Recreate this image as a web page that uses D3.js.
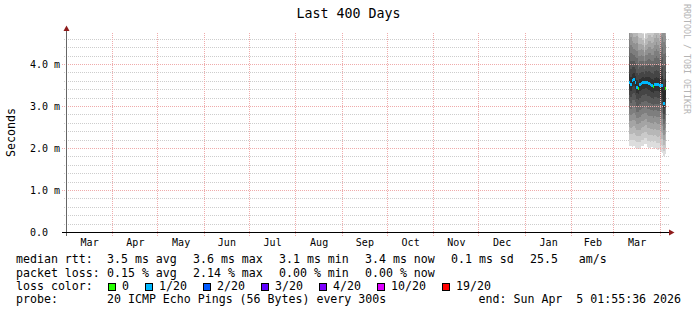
<!DOCTYPE html>
<html>
<head>
<meta charset="utf-8"/>
<title>Last 400 Days</title>
<script src="https://cdn.jsdelivr.net/npm/d3@7/dist/d3.min.js"></script>
<style>
  body { margin: 0; background: #fff; }
  svg text { font-family: 'DejaVu Sans Mono', monospace; fill: #000; white-space: pre; }
  .axisText { font-size: 10px; }
  .legend { font-size: 11.6px; }
</style>
</head>
<body>
<div id="chart"></div>
<script>
// time window of the graph
const start = new Date(Date.UTC(2025, 2, 1, 1, 55, 36));
const end = new Date(Date.UTC(2026, 3, 5, 1, 55, 36));

// one value per day (ms)
const days = ["2026-03-11","2026-03-12","2026-03-13","2026-03-14","2026-03-15","2026-03-16","2026-03-17",
  "2026-03-18","2026-03-19","2026-03-20","2026-03-21","2026-03-22","2026-03-23","2026-03-24","2026-03-25",
  "2026-03-26","2026-03-27","2026-03-28","2026-03-29","2026-03-30","2026-03-31","2026-04-01","2026-04-02",
  "2026-04-03","2026-04-04"];
const median = [3.58, 3.52, 3.62, 3.64, 3.58, 3.46, 3.44, 3.52, 3.55, 3.57, 3.57, 3.58, 3.56,
  3.55, 3.53, 3.50, 3.47, 3.52, 3.53, 3.52, 3.51, 3.50, 3.49, 3.08, 3.44];
const lossPct = [0.3, 0.1, 0.1, 0.1, 0.05, 0.05, 0, 0.1, 0.05, 0.1, 0.05, 0.05, 0.1,
  0.05, 0.1, 0.05, 0, 0.05, 0.05, 0.1, 0.05, 0.1, 0.05, 2.14, 0];
const smokeLow = [2.05, 2.06, 2.04, 2.05, 2.02, 2.00, 2.02, 1.99, 2.05, 2.06, 2.10, 2.11, 2.03,
  2.02, 2.01, 2.03, 2.00, 2.02, 1.98, 1.97, 1.98, 1.92, 1.90, 1.82, 1.86];
const smokeHigh = [5.6, 5.4, 5.2, 5.1, 5.1, 5.2, 4.95, 4.9, 4.9, 4.85, 4.62, 4.85, 4.9,
  5.0, 5.0, 4.95, 5.0, 5.1, 5.2, 5.1, 5.0, 5.5, 5.8, 6.0, 5.5];

const yTicks = [0, 1, 2, 3, 4];
const yTickLabels = ["0.0  ", "1.0 m", "2.0 m", "3.0 m", "4.0 m"];

const lossLabels = ["0", "1/20", "2/20", "3/20", "4/20", "10/20", "19/20"];
const lossColors = ["#26ff00", "#00b8ff", "#0059ff", "#5e00ff", "#7e00ff", "#dd00ff", "#ff0000"];
const lossLimits = [0, 1, 2, 3, 4, 10, 19]; // lost pings out of 20

const rttStats = ["3.5 ms avg", "3.6 ms max", "3.1 ms min", "3.4 ms now", "0.1 ms sd", "25.5   am/s"];
const lossStats = ["0.15 % avg", "2.14 % max", "0.00 % min", "0.00 % now"];
const probeText = "20 ICMP Echo Pings (56 Bytes) every 300s";
const endText = "end: Sun Apr  5 01:55:36 2026";

const W = 697, H = 315;
const svg = d3.select("#chart").append("svg")
  .attr("width", W).attr("height", H);

const x = d3.scaleUtc().domain([start, end]).range([66.5, 666.5]);
const y = d3.scaleLinear().domain([0, 200 / 42]).range([232.5, 32.5]);
const snap = v => Math.round(v - 0.5) + 0.5;

const parse = d3.utcParse("%Y-%m-%d");
const data = days.map((d, i) => ({
  t0: parse(d), t1: d3.utcDay.offset(parse(d), 1),
  med: median[i], loss: lossPct[i], lo: smokeLow[i], hi: smokeHigh[i]
}));

function lossColor(pct) {
  const pings = pct / 100 * 20;
  for (let i = 0; i < lossLimits.length; i++) if (pings <= lossLimits[i]) return lossColors[i];
  return lossColors[lossColors.length - 1];
}

// title
svg.append("text").attr("x", 348.5).attr("y", 18).attr("text-anchor", "middle")
  .style("font-size", "13.3px").text("Last 400 Days");

// watermark
svg.append("text").attr("transform", "translate(684,4) rotate(90)")
  .style("font-size", "8.3px").style("fill", "#b4b4b4").text("RRDTOOL / TOBI OETIKER");

// y axis title
svg.append("text").attr("transform", "translate(15,132.5) rotate(-90)")
  .attr("text-anchor", "middle").attr("class", "legend").text("Seconds");

// minor horizontal grid
const minor = y.ticks(24).filter(v => v > 0 && Math.abs(v - Math.round(v)) > 1e-6);
svg.append("g").selectAll("line").data(minor).enter().append("line")
  .attr("x1", 64).attr("x2", 669)
  .attr("y1", d => snap(y(d))).attr("y2", d => snap(y(d)))
  .attr("stroke", "#cdcdcd").attr("stroke-dasharray", "1,1");

// smoke
svg.append("clipPath").attr("id", "plot").append("rect")
  .attr("x", 66).attr("y", 33).attr("width", 601).attr("height", 200);

const half = 10;
const bands = [];
data.forEach(d => {
  for (let j = 0; j < half; j++) {
    const c = Math.floor(190 / half * (half - 1 - j)) + 50;
    bands.push({
      d, a: d.lo + (d.med - d.lo) * j / half, b: d.hi - (d.hi - d.med) * j / half,
      fill: d3.rgb(c, c, c).formatHex()
    });
  }
});
svg.append("g").attr("clip-path", "url(#plot)").attr("shape-rendering", "crispEdges")
  .selectAll("rect").data(bands).enter().append("rect")
  .attr("x", b => Math.round(x(b.d.t0)))
  .attr("width", b => Math.round(x(b.d.t1)) - Math.round(x(b.d.t0)))
  .attr("y", b => Math.round(y(b.b)))
  .attr("height", b => Math.round(y(b.a)) - Math.round(y(b.b)))
  .attr("fill", b => b.fill);

// median line with loss colours
const pts = data.map(d => [Math.round(x(d.t0)), y(d.med)]);
const last = data[data.length - 1];
pts.push([Math.round(x(last.t1)), y(last.med)]);
svg.append("path").attr("d", d3.line().curve(d3.curveStepAfter)(pts))
  .attr("fill", "none").attr("stroke", "#202020").attr("stroke-width", 1);
svg.append("g").attr("shape-rendering", "crispEdges")
  .selectAll("rect").data(data).enter().append("rect")
  .attr("x", d => Math.round(x(d.t0)))
  .attr("width", d => Math.round(x(d.t1)) - Math.round(x(d.t0)))
  .attr("y", d => Math.round(y(d.med) - 1.5)).attr("height", 3)
  .attr("fill", d => lossColor(d.loss));

// major horizontal grid
svg.append("g").selectAll("line").data(yTicks.filter(v => v > 0)).enter().append("line")
  .attr("x1", 62).attr("x2", 669)
  .attr("y1", d => y(d)).attr("y2", d => y(d))
  .attr("stroke", "#efabab").attr("stroke-dasharray", "1,1");

// month grid + labels
const months = d3.utcMonth.range(d3.utcMonth.ceil(start), end);
svg.append("g").selectAll("line").data(months).enter().append("line")
  .attr("x1", d => snap(x(d))).attr("x2", d => snap(x(d)))
  .attr("y1", 33).attr("y2", 236)
  .attr("stroke", "#efabab").attr("stroke-dasharray", "1,1");

const monthLabels = d3.utcMonth.range(d3.utcMonth.floor(start), end)
  .map(m => ({ m, mid: new Date((+m + +d3.utcMonth.offset(m, 1)) / 2) }))
  .filter(o => o.mid >= start && o.mid <= end);
svg.append("g").selectAll("text").data(monthLabels).enter().append("text")
  .attr("class", "axisText").attr("text-anchor", "middle")
  .attr("x", o => x(o.mid)).attr("y", 246)
  .text(o => d3.utcFormat("%b")(o.m));

// y tick labels and ticks
svg.append("g").selectAll("text").data(yTicks).enter().append("text")
  .attr("class", "axisText").attr("text-anchor", "end")
  .attr("x", 60).attr("y", d => y(d) + 3.5)
  .text((d, i) => yTickLabels[i]);

// axes
svg.append("line").attr("x1", 66.5).attr("x2", 66.5).attr("y1", 236).attr("y2", 30)
  .attr("stroke", "#666");
svg.append("line").attr("x1", 62).attr("x2", 670).attr("y1", y(0)).attr("y2", y(0))
  .attr("stroke", "#000");
svg.append("path").attr("d", "M66.5,25.5L63.5,31L69.5,31Z").attr("fill", "#8e1b1b");
svg.append("path").attr("d", "M674.5,232.5L669,229.5L669,235.5Z").attr("fill", "#8e1b1b");

// legend
const rows = [263, 276.5, 290, 303];
const leg = svg.append("g").attr("class", "legend");
leg.append("text").attr("x", 16).attr("y", rows[0]).text("median rtt:");
leg.append("text").attr("x", 16).attr("y", rows[1]).text("packet loss:");
leg.append("text").attr("x", 16).attr("y", rows[2]).text("loss color:");
leg.append("text").attr("x", 16).attr("y", rows[3]).text("probe:");

function seq(items) {
  let px = 107;
  return items.map(s => { const o = { s, px }; px += s.length * 7 + 16; return o; });
}
leg.selectAll("text.rtt").data(seq(rttStats)).enter().append("text")
  .attr("x", o => o.px).attr("y", rows[0]).text(o => o.s);
leg.selectAll("text.loss").data(seq(lossStats)).enter().append("text")
  .attr("x", o => o.px).attr("y", rows[1]).text(o => o.s);

let lx = 107;
const lossItems = lossLabels.map((s, i) => {
  const o = { s, c: lossColors[i], px: lx }; lx += 15 + s.length * 7 + 15; return o;
});
leg.selectAll("rect").data(lossItems).enter().append("rect")
  .attr("x", o => o.px + 1.5).attr("y", rows[2] - 6.5).attr("width", 7).attr("height", 7)
  .attr("fill", o => o.c).attr("stroke", "#000").attr("stroke-width", 1);
leg.selectAll("text.lc").data(lossItems).enter().append("text")
  .attr("x", o => o.px + 15).attr("y", rows[2]).text(o => o.s);

leg.append("text").attr("x", 107).attr("y", rows[3]).text(probeText);
leg.append("text").attr("x", 681).attr("y", rows[3]).attr("text-anchor", "end").text(endText);
</script>
</body>
</html>
